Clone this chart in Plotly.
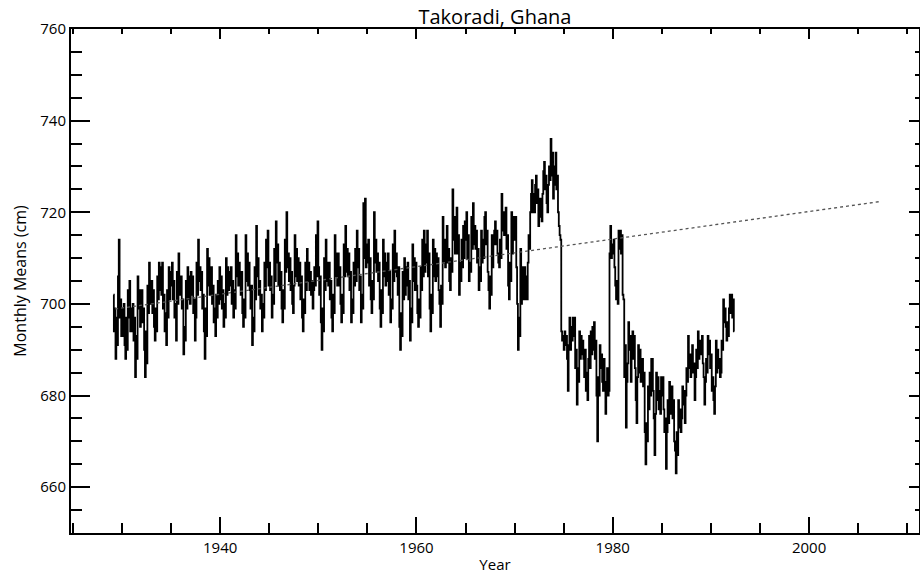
import plotly.graph_objects as go

# ---------------- data (monthly mean sea level, cm) ----------------
start_year = 1929
start_month = 2  # first value is February 1929

levels_1929_1939 = [
    702, 694, 699, 688, 697, 691, 706, 714, 697, 701, 693,            # 1929 (Feb-Dec)
    699, 693, 700, 691, 688, 697, 690, 703, 697, 705, 694, 699,       # 1930
    694, 700, 692, 697, 684, 693, 688, 706, 699, 703, 695, 701,       # 1931
    703, 696, 699, 690, 684, 694, 687, 704, 698, 709, 700, 704,       # 1932
    705, 698, 703, 695, 692, 699, 694, 706, 701, 709, 703, 708,       # 1933
    702, 709, 699, 702, 694, 698, 691, 703, 697, 708, 701, 707,       # 1934
    704, 709, 701, 705, 697, 700, 692, 707, 700, 711, 704, 702,       # 1935
    706, 699, 701, 689, 695, 692, 705, 699, 708, 701, 706, 700,       # 1936
    707, 702, 706, 698, 701, 692, 697, 709, 702, 714, 705, 708,       # 1937
    703, 707, 699, 702, 694, 688, 699, 693, 712, 704, 710, 702,       # 1938
    706, 708, 700, 704, 696, 699, 693, 702, 697, 705, 700, 708,       # 1939
]
levels_1940s = [
    701, 706, 699, 703, 695, 700, 697, 710, 702, 708, 703, 707,       # 1940
    704, 708, 700, 705, 697, 703, 699, 715, 706, 711, 704, 709,       # 1941
    706, 702, 707, 698, 695, 701, 697, 715, 705, 711, 704, 709,       # 1942
    703, 699, 704, 691, 697, 694, 708, 701, 717, 706, 710, 702,       # 1943
    705, 699, 702, 694, 700, 697, 709, 703, 714, 708, 716, 704,       # 1944
    709, 703, 706, 697, 702, 700, 712, 705, 718, 709, 713, 704,       # 1945
    709, 703, 707, 699, 696, 703, 699, 714, 707, 720, 708, 711,       # 1946
    705, 710, 703, 707, 700, 698, 704, 715, 706, 712, 705, 710,       # 1947
    704, 709, 701, 706, 697, 694, 701, 698, 709, 703, 712, 705,       # 1948
    709, 703, 707, 702, 705, 699, 703, 708, 704, 715, 706, 718,       # 1949
]
levels_1950s = [
    708, 702, 706, 696, 690, 699, 694, 710, 703, 714, 705, 709,       # 1950
    704, 709, 701, 705, 697, 694, 702, 698, 715, 706, 711, 704,       # 1951
    711, 704, 708, 700, 696, 702, 698, 713, 706, 717, 707, 712,       # 1952
    706, 711, 703, 707, 696, 701, 698, 709, 704, 712, 705, 716,       # 1953
    708, 712, 703, 706, 696, 702, 699, 722, 710, 723, 708, 713,       # 1954
    709, 714, 704, 710, 701, 698, 705, 701, 720, 709, 714, 707,       # 1955
    711, 705, 709, 699, 695, 703, 698, 714, 706, 711, 704, 709,       # 1956
    705, 711, 702, 707, 696, 701, 699, 713, 705, 716, 707, 711,       # 1957
    706, 702, 708, 695, 690, 698, 693, 707, 701, 710, 702, 708,       # 1958
    704, 709, 701, 705, 692, 699, 696, 713, 705, 710, 703, 709,       # 1959
]
levels_1960s = [
    704, 698, 695, 701, 697, 708, 703, 714, 706, 716, 707, 713,       # 1960
    709, 716, 706, 711, 699, 694, 702, 698, 714, 706, 712, 705,       # 1961
    711, 706, 710, 703, 700, 695, 704, 700, 719, 709, 714, 708,       # 1962
    713, 717, 709, 712, 705, 703, 710, 707, 725, 714, 719, 711,       # 1963
    716, 721, 711, 715, 702, 709, 705, 714, 708, 717, 710, 718,       # 1964
    714, 720, 710, 715, 705, 709, 707, 719, 712, 722, 713, 717,       # 1965
    712, 716, 709, 712, 703, 708, 705, 716, 709, 714, 710, 719,       # 1966
    720, 713, 716, 707, 703, 699, 706, 702, 715, 708, 713, 716,       # 1967
    718, 713, 716, 711, 709, 708, 714, 710, 724, 716, 720, 715,       # 1968
    717, 721, 712, 715, 704, 701, 709, 705, 720, 711, 716, 719,       # 1969
]
levels_1970s = [
    714, 719, 708, 700, 690, 697, 693, 712, 700, 708, 701, 704,       # 1970
    708, 701, 706, 701, 709, 715, 712, 720, 724, 727, 720, 724,       # 1971
    720, 726, 728, 722, 725, 717, 720, 723, 719, 718, 724, 729,       # 1972
    731, 725, 728, 722, 720, 726, 730, 727, 736, 728, 733, 723,       # 1973
    726, 730, 733, 725, 728, 720, 717, 715, 714, 694, 692, 693,       # 1974
    690, 694, 691, 693, 688, 681, 691, 697, 690, 695, 692, 697,       # 1975
    693, 697, 686, 690, 678, 686, 683, 694, 688, 693, 689, 692,       # 1976
    688, 684, 690, 681, 685, 679, 688, 693, 686, 694, 689, 695,       # 1977
    690, 696, 688, 692, 680, 670, 684, 680, 691, 686, 689, 683,       # 1978
    681, 688, 683, 676, 682, 686, 680, 681, 711, 717, 710, 713,       # 1979
]
levels_1980_1992 = [
    711, 714, 708, 704, 701, 705, 700, 716, 712, 716, 711, 715,       # 1980
    702, 701, 684, 691, 673, 683, 687, 696, 690, 693, 683, 689,       # 1981
    694, 688, 693, 686, 679, 674, 684, 691, 685, 690, 683, 687,       # 1982
    688, 682, 685, 672, 665, 674, 670, 682, 677, 685, 680, 688,       # 1983
    688, 681, 675, 667, 676, 685, 679, 684, 677, 681, 676, 684,       # 1984
    680, 684, 677, 672, 675, 664, 672, 679, 674, 683, 676, 681,       # 1985
    682, 675, 679, 670, 668, 663, 672, 667, 679, 673, 677, 672,       # 1986
    675, 682, 678, 681, 674, 680, 686, 683, 693, 686, 689, 684,       # 1987
    688, 691, 685, 687, 679, 684, 690, 686, 694, 688, 692, 689,       # 1988
    691, 693, 687, 684, 678, 683, 688, 685, 693, 689, 692, 686,       # 1989
    689, 681, 684, 679, 676, 682, 692, 685, 690, 686, 688, 684,       # 1990
    685, 692, 690, 701, 696, 699, 695, 692, 696, 693, 699, 702,       # 1991
    698, 702, 697, 701, 694,                                          # 1992 (Jan-May)
]

trend_years = [1929.3, 2007.1]
trend_cm = [698.9, 722.3]

x_tick_years = [1940, 1960, 1980, 2000]
y_tick_values = [660, 680, 700, 720, 740, 760]

# ---------------- build ----------------
monthly_means = (levels_1929_1939 + levels_1940s + levels_1950s
                 + levels_1960s + levels_1970s + levels_1980_1992)
decimal_year = [start_year + (start_month - 1 + i + 0.5) / 12.0
                for i in range(len(monthly_means))]

FONT = "Open Sans"
xr = [1924.8, 2011.2]
yr = [650, 760]

fig = go.Figure()
fig.add_trace(go.Scatter(
    x=decimal_year, y=monthly_means, mode="lines",
    line=dict(color="black", width=1.8, shape="hvh"),
    showlegend=False, hoverinfo="x+y",
))
fig.add_trace(go.Scatter(
    x=trend_years, y=trend_cm, mode="lines",
    line=dict(color="#555555", width=1.3, dash="3px,3px"),
    showlegend=False, hoverinfo="skip",
))

axis_common = dict(showgrid=False, zeroline=False, showline=True,
                   linecolor="black", linewidth=2, ticks="inside",
                   tickcolor="black", tickwidth=1.5)

fig.update_layout(
    width=920, height=574,
    margin=dict(l=71, r=1, t=29, b=41),
    paper_bgcolor="white", plot_bgcolor="white",
    font=dict(family=FONT, size=15, color="black"),
    title=dict(text="Takoradi, Ghana", x=0.538, xanchor="center",
               y=1 - 17 / 574, yanchor="middle", yref="container",
               font=dict(family=FONT, size=20, color="black")),
    xaxis=dict(range=xr, tickmode="array", tickvals=x_tick_years,
               ticklen=16, minor=dict(dtick=5, ticklen=10, ticks="inside",
                                      tickcolor="black", tickwidth=1.5),
               title=dict(text="Year", standoff=5,
                          font=dict(family=FONT, size=15)),
               **axis_common),
    xaxis2=dict(range=xr, overlaying="x", side="top", anchor="y",
                tickmode="array", tickvals=x_tick_years, showticklabels=False,
                ticklen=10, minor=dict(dtick=5, ticklen=5, ticks="inside",
                                       tickcolor="black", tickwidth=1.5),
                **axis_common),
    yaxis=dict(range=yr, tickmode="array", tickvals=y_tick_values,
               ticklen=19, minor=dict(dtick=5, ticklen=11, ticks="inside",
                                      tickcolor="black", tickwidth=1.5),
               title=dict(text="Monthly Means (cm)", standoff=10,
                          font=dict(family=FONT, size=16)),
               **axis_common),
    yaxis2=dict(range=yr, overlaying="y", side="right", anchor="x",
                tickmode="array", tickvals=y_tick_values, showticklabels=False,
                ticklen=10, minor=dict(dtick=5, ticklen=4, ticks="inside",
                                       tickcolor="black", tickwidth=1.5),
                **axis_common),
)
# attach an invisible trace to the secondary axes so they render
fig.add_trace(go.Scatter(x=[xr[0]], y=[yr[0]], xaxis="x2", yaxis="y2",
                         mode="markers", marker=dict(opacity=0),
                         showlegend=False, hoverinfo="skip"))

fig.write_html("out.html")
